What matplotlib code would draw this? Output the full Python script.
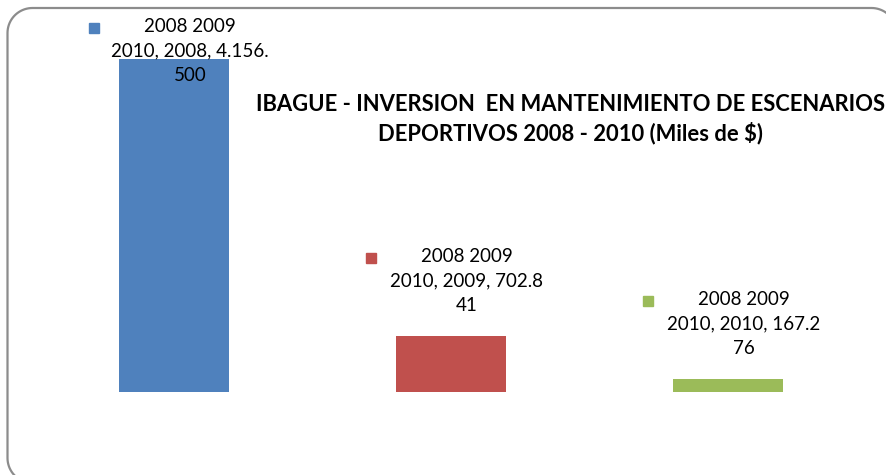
import numpy as np
import matplotlib
matplotlib.use('Agg')
import matplotlib.pyplot as plt
from matplotlib.lines import Line2D
from matplotlib.transforms import offset_copy, IdentityTransform

years = ['2008', '2009', '2010']
values = [4156.5, 702.841, 167.276]
colors = ['#4F81BD', '#C0504D', '#9BBB59']
labels = ['2008 2009\n2010, 2008, 4.156.\n500',
          '2008 2009\n2010, 2009, 702.8\n41',
          '2008 2009\n2010, 2010, 167.2\n76']
title = 'IBAGUE - INVERSION  EN MANTENIMIENTO DE ESCENARIOS\nDEPORTIVOS 2008 - 2010 (Miles de $)'

plt.rcParams['font.family'] = ['Lato', 'DejaVu Sans']

fig = plt.figure(figsize=(8.87, 4.75), dpi=100)
ax = fig.add_axes([0, 0, 1, 1])
ax.set_xlim(-0.628, 2.574)
ax.set_ylim(-1036, 4893)
ax.axis('off')

x = list(range(len(years)))
ax.bar(x, values, width=0.4, color=colors)

# labels sit above the bar, but the first one is pushed down by the top of the plot area
label_cap = 3570
for i, v in enumerate(values):
    y = min(v, label_cap)
    ax.annotate(labels[i], xy=(i, y), xytext=(16, 88), textcoords='offset pixels',
                ha='center', va='top', multialignment='center',
                fontsize=13.5, linespacing=1.55, color='black')
    tr = offset_copy(ax.transData, fig=fig, x=-80, y=78, units='dots')
    ax.plot([i], [y], marker='s', markersize=7.5, color=colors[i], transform=tr,
            clip_on=False)

fig.text(571 / 887, 1 - 119 / 475, title, ha='center', va='center',
         fontsize=15.8, fontweight='bold', linespacing=1.35, color='black')

# rounded chart border (pixel coords), running off the right and bottom edges
x0, x1, y0, y1, r = 7.5, 896.5, -8, 467, 25
t = np.linspace(0, np.pi / 2, 20)
bx, by = [], []
for cx, cy, a0 in [(x1 - r, y1 - r, 0), (x0 + r, y1 - r, np.pi / 2),
                   (x0 + r, y0 + r, np.pi), (x1 - r, y0 + r, 1.5 * np.pi)]:
    bx += list(cx + r * np.cos(a0 + t))
    by += list(cy + r * np.sin(a0 + t))
bx.append(bx[0])
by.append(by[0])
fig.lines.append(Line2D(bx, by, transform=IdentityTransform(),
                        color='#8c8c8c', linewidth=1.6))

fig.savefig('out.png', dpi=100)
